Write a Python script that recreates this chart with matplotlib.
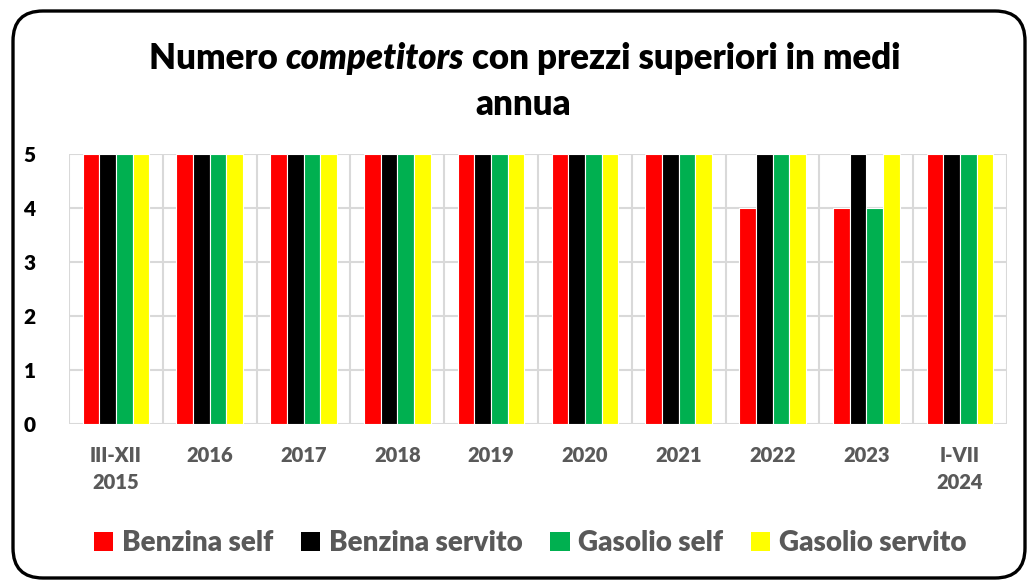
import numpy as np
import matplotlib.pyplot as plt
from matplotlib.patches import FancyBboxPatch, Patch

categories = ['III-XII\n2015', '2016', '2017', '2018', '2019', '2020', '2021', '2022', '2023', 'I-VII\n2024']
benzina_self = [5, 5, 5, 5, 5, 5, 5, 4, 4, 5]
benzina_servito = [5, 5, 5, 5, 5, 5, 5, 5, 5, 5]
gasolio_self = [5, 5, 5, 5, 5, 5, 5, 5, 4, 5]
gasolio_servito = [5, 5, 5, 5, 5, 5, 5, 5, 5, 5]
series_names = ['Benzina self', 'Benzina servito', 'Gasolio self', 'Gasolio servito']
colors = ['#ff0000', '#000000', '#00b050', '#ffff00']

plt.rcParams['font.family'] = ['Lato', 'DejaVu Sans']
BOLD = 'heavy'

W, H = 1030, 583
fig = plt.figure(figsize=(W / 100, H / 100), dpi=100)

# background frame with rounded corners
bg = fig.add_axes([0, 0, 1, 1])
bg.set_xlim(0, W)
bg.set_ylim(H, 0)
bg.axis('off')
bg.add_patch(FancyBboxPatch((13, 11), 1012, 567, boxstyle='round,pad=0,rounding_size=30',
                            facecolor='white', edgecolor='black', linewidth=2.4))

ax = fig.add_axes([69 / W, 1 - 424 / H, (1007 - 69) / W, (424 - 154) / H])
ax.set_facecolor('none')
x = np.arange(len(categories))
width = 0.1775
data = [benzina_self, benzina_servito, gasolio_self, gasolio_servito]
for i, (vals, c) in enumerate(zip(data, colors)):
    ax.bar(x + (i - 1.5) * width, vals, width, color=c, edgecolor='white', linewidth=0.8, zorder=3)

ax.set_xlim(-0.5, len(categories) - 0.5)
ax.set_ylim(0, 5)
ax.set_yticks(range(6))
ax.set_xticks(x)
ax.set_xticks(np.arange(-0.5, len(categories), 1), minor=True)
ax.set_xticklabels(categories, fontsize=14.5, fontweight=BOLD, color='#595959', linespacing=1.5)
ax.set_yticklabels([str(v) for v in range(6)], fontsize=15, fontweight=BOLD, color='black')
ax.tick_params(axis='x', which='both', length=0, pad=16)
ax.tick_params(axis='y', length=0, pad=24)
ax.grid(axis='y', color='#d9d9d9', linewidth=1.5, zorder=0)
ax.grid(axis='x', which='minor', color='#d9d9d9', linewidth=1.5, zorder=0)
ax.grid(axis='x', which='major', visible=False)
for s in ax.spines.values():
    s.set_visible(False)

# title with italic word
fig.canvas.draw()
r = fig.canvas.get_renderer()
parts = [('Numero ', 'normal'), ('competitors', 'italic'), (' con prezzi superiori in medi', 'normal')]
texts = []
for s, st in parts:
    t = bg.text(0, 69, s, fontsize=25, fontweight=BOLD, style=st, va='baseline', ha='left')
    texts.append(t)
widths = [t.get_window_extent(r).width for t in texts]
xpos = 525 - sum(widths) / 2
for t, w in zip(texts, widths):
    t.set_x(xpos)
    xpos += w
bg.text(523, 115, 'annua', fontsize=25, fontweight=BOLD, ha='center', va='baseline')

handles = [Patch(facecolor=c, edgecolor='none') for c in colors]
fig.legend(handles, series_names, loc='center', bbox_to_anchor=(530 / W, 1 - 543 / H), ncol=4,
           frameon=False, prop={'size': 20, 'weight': BOLD}, labelcolor='#595959',
           handlelength=0.7, handleheight=0.7, handletextpad=0.3, columnspacing=1.0)

fig.savefig('out.png', dpi=100)
